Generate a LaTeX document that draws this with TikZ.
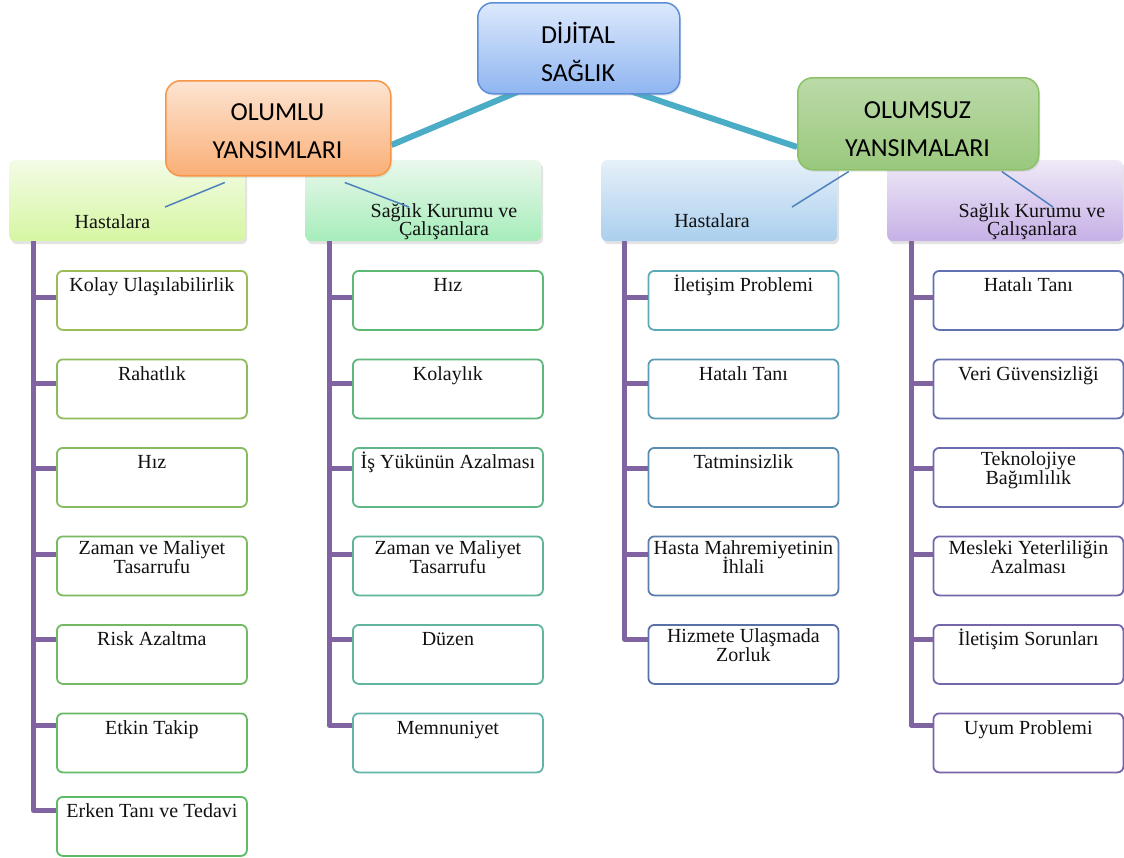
\documentclass[tikz,border=0pt]{standalone}
\usepackage{fontspec}
\setmainfont{Liberation Serif}
\newfontfamily\hdrfont{Carlito}
\usetikzlibrary{shadows}
\pgfdeclarelayer{bg}
\pgfsetlayers{bg,main}
\definecolor{trunkc}{HTML}{8064A2}
\definecolor{sublinkc}{HTML}{4F81BD}
\definecolor{tealc}{HTML}{4BACC6}
\definecolor{dsborder}{HTML}{5B8ED8}
\definecolor{dstop}{HTML}{DCE9FC}
\definecolor{dsbot}{HTML}{8FB5F1}
\definecolor{olborder}{HTML}{F79646}
\definecolor{oltop}{HTML}{FDE4D2}
\definecolor{olbot}{HTML}{FAAF76}
\definecolor{onborder}{HTML}{8CC168}
\definecolor{ontop}{HTML}{BBDAA8}
\definecolor{onbot}{HTML}{9AC87D}
\definecolor{cat1t}{HTML}{F3FCE6}
\definecolor{cat1b}{HTML}{D6F6A2}
\definecolor{cat2t}{HTML}{EAF8EC}
\definecolor{cat2b}{HTML}{A6EDBA}
\definecolor{cat3t}{HTML}{E6F0F9}
\definecolor{cat3b}{HTML}{AACFEE}
\definecolor{cat4t}{HTML}{EFE9F7}
\definecolor{cat4b}{HTML}{C6B0E6}
\definecolor{c1a}{HTML}{9BBB59}
\definecolor{c1b}{HTML}{5CBA68}
\definecolor{c2a}{HTML}{5DB972}
\definecolor{c2b}{HTML}{62B4AA}
\definecolor{c3a}{HTML}{5BAAB8}
\definecolor{c3b}{HTML}{5A70A8}
\definecolor{c4a}{HTML}{6172B0}
\definecolor{c4b}{HTML}{7A62AA}
\definecolor{txt}{HTML}{111111}
\newcommand\topstrut{\rule{0pt}{18pt}}
\newcommand\itemfont{\fontsize{20}{19}\selectfont\lineskiplimit=-100pt\relax\lineskip=0pt\relax}
\newcommand\catfont{\fontsize{20}{18.5}\selectfont\lineskiplimit=-100pt\relax\lineskip=0pt\relax}
\tikzset{
  itembox/.style={draw, line width=1.8pt, rounded corners=6pt, fill=white,
    minimum width=190pt, minimum height=59pt, anchor=north west, inner sep=0pt},
  itemtext/.style={anchor=north, inner sep=0pt, align=center, text=txt,
    font=\itemfont},
  cattext/.style={inner sep=0pt, align=center, text=txt,
    font=\catfont},
  catbox/.style={rounded corners=6pt, minimum width=236pt, minimum height=81pt,
    anchor=north west, inner sep=0pt,
    drop shadow={opacity=0.22, shadow xshift=2pt, shadow yshift=-3pt}},
  hdrbox/.style={line width=1.5pt, rounded corners=15pt, anchor=north west, inner sep=0pt,
    drop shadow={opacity=0.15, shadow xshift=1.5pt, shadow yshift=-2pt}},
  hdrtext/.style={anchor=north, inner sep=0pt, align=center, text=black,
    font=\hdrfont\fontsize{26}{38}\selectfont},
  trunkline/.style={draw=trunkc, line width=5pt, line join=round},
  sublink/.style={draw=sublinkc, line width=1.5pt},
  tealline/.style={draw=tealc, line width=6pt},
}
\newcommand\mkitem[5]{%
  \node[itembox, draw=#4] (#1) at (#2,#3) {};
  \node[itemtext] (#1t) at ([yshift=-3.5pt]#1.north) {\topstrut #5};
}
\newcommand\mkitemtwo[6]{%
  \node[itembox, draw=#4] (#1) at (#2,#3) {};
  \node[itemtext] (#1t) at ([yshift=-0.5pt]#1.north) {\topstrut #5\\#6};
}
\newcommand\mkbar[3]{\draw[trunkline] (#1,#3) -- (#2.west |- 0,#3);}
\begin{document}
\begin{tikzpicture}[x=1pt,y=-1pt]
\useasboundingbox (0,0) rectangle (1124,857);
\begin{pgfonlayer}{bg}
\fill[white] (0,0) rectangle (1124,857);
\end{pgfonlayer}

% category boxes
\node[catbox, top color=cat1t, bottom color=cat1b] (cat1) at (9,160) {};
\node[catbox, top color=cat2t, bottom color=cat2b] (cat2) at (305,160) {};
\node[catbox, top color=cat3t, bottom color=cat3b] (cat3) at (601,160) {};
\node[catbox, top color=cat4t, bottom color=cat4b] (cat4) at (887,160) {};

% header boxes
\node[hdrbox, draw=dsborder, top color=dstop, bottom color=dsbot,
  minimum width=202pt, minimum height=91pt] (ds) at (477,2) {};
\node[hdrbox, draw=olborder, top color=oltop, bottom color=olbot,
  minimum width=225pt, minimum height=95pt] (ol) at (165,80) {};
\node[hdrbox, draw=onborder, top color=ontop, bottom color=onbot,
  minimum width=241pt, minimum height=92pt] (on) at (797,77) {};

\node[hdrtext] (dst) at (578,16.4) {\strut DİJİTAL\\\strut SAĞLIK};
\node[hdrtext] (olt) at (277.5,93.4) {\strut OLUMLU\\\strut YANSIMLARI};
\node[hdrtext] (ont) at (917.5,91.4) {\strut OLUMSUZ\\\strut YANSIMALARI};

% teal connectors (behind boxes)
\begin{pgfonlayer}{bg}
\draw[tealline] ([xshift=-58pt,yshift=4pt]ds.south) -- (ol.east |- 0,145);
\draw[tealline] ([xshift=50pt,yshift=4pt]ds.south) -- (on.west |- 0,147);
\end{pgfonlayer}

% category texts
\node[cattext, anchor=base] (cat1x) at (112.5,228) {Hastalara};
\node[cattext, anchor=north] (cat2x) at (444,199) {\topstrut Sağlık Kurumu ve\\Çalışanlara};
\node[cattext, anchor=base] (cat3x) at (712,227) {Hastalara};
\node[cattext, anchor=north] (cat4x) at (1032,199) {\topstrut Sağlık Kurumu ve\\Çalışanlara};

% thin blue links
\coordinate (e1) at (165,207);
\coordinate (e2) at (409,207);
\coordinate (e3) at (792,207);
\coordinate (e4) at (1053,207);
\draw[sublink] ([xshift=-53.5pt,yshift=-6pt]ol.south) -- (e1);
\draw[sublink] ([xshift=66.5pt,yshift=-6pt]ol.south) -- (e2);
\draw[sublink] ([xshift=-69.5pt,yshift=-1pt]on.south) -- (e3);
\draw[sublink] ([xshift=83.5pt,yshift=-1pt]on.south) -- (e4);

% column 1
\mkitem{a1}{56}{270}{c1a}{Kolay Ulaşılabilirlik}
\mkitem{a2}{56}{358.5}{c1a!83!c1b}{Rahatlık}
\mkitem{a3}{56}{447}{c1a!67!c1b}{Hız}
\mkitemtwo{a4}{56}{535.5}{c1a!50!c1b}{Zaman ve Maliyet}{Tasarrufu}
\mkitem{a5}{56}{624}{c1a!33!c1b}{Risk Azaltma}
\mkitem{a6}{56}{712.5}{c1a!17!c1b}{Etkin Takip}
\mkitem{a7}{56}{796}{c1b}{Erken Tanı ve Tedavi}
\draw[trunkline] ([xshift=24.5pt]cat1.south west) -- (33.5,810.5) -- (a7.west |- 0,810.5);
\mkbar{33.5}{a1}{297.5}
\mkbar{33.5}{a2}{383}
\mkbar{33.5}{a3}{468.5}
\mkbar{33.5}{a4}{554}
\mkbar{33.5}{a5}{639.5}
\mkbar{33.5}{a6}{725}

% column 2
\mkitem{b1}{352}{270}{c2a}{Hız}
\mkitem{b2}{352}{358.5}{c2a!80!c2b}{Kolaylık}
\mkitem{b3}{352}{447}{c2a!60!c2b}{İş Yükünün Azalması}
\mkitemtwo{b4}{352}{535.5}{c2a!40!c2b}{Zaman ve Maliyet}{Tasarrufu}
\mkitem{b5}{352}{624}{c2a!20!c2b}{Düzen}
\mkitem{b6}{352}{712.5}{c2b}{Memnuniyet}
\draw[trunkline] ([xshift=24pt]cat2.south west) -- (329,725) -- (b6.west |- 0,725);
\mkbar{329}{b1}{297.5}
\mkbar{329}{b2}{383}
\mkbar{329}{b3}{468.5}
\mkbar{329}{b4}{554}
\mkbar{329}{b5}{639.5}

% column 3
\mkitem{c1}{647.5}{270}{c3a}{İletişim Problemi}
\mkitem{c2}{647.5}{358.5}{c3a!75!c3b}{Hatalı Tanı}
\mkitem{c3}{647.5}{447}{c3a!50!c3b}{Tatminsizlik}
\mkitemtwo{c4}{647.5}{535.5}{c3a!25!c3b}{Hasta Mahremiyetinin}{İhlali}
\mkitemtwo{c5}{647.5}{624}{c3b}{Hizmete Ulaşmada}{Zorluk}
\draw[trunkline] ([xshift=23.5pt]cat3.south west) -- (624.5,639.5) -- (c5.west |- 0,639.5);
\mkbar{624.5}{c1}{297.5}
\mkbar{624.5}{c2}{383}
\mkbar{624.5}{c3}{468.5}
\mkbar{624.5}{c4}{554}

% column 4
\mkitem{d1}{932.5}{270}{c4a}{Hatalı Tanı}
\mkitem{d2}{932.5}{358.5}{c4a!80!c4b}{Veri Güvensizliği}
\mkitemtwo{d3}{932.5}{447}{c4a!60!c4b}{Teknolojiye}{Bağımlılık}
\mkitemtwo{d4}{932.5}{535.5}{c4a!40!c4b}{Mesleki Yeterliliğin}{Azalması}
\mkitem{d5}{932.5}{624}{c4a!20!c4b}{İletişim Sorunları}
\mkitem{d6}{932.5}{712.5}{c4b}{Uyum Problemi}
\draw[trunkline] ([xshift=24pt]cat4.south west) -- (911,725) -- (d6.west |- 0,725);
\mkbar{911}{d1}{297.5}
\mkbar{911}{d2}{383}
\mkbar{911}{d3}{468.5}
\mkbar{911}{d4}{554}
\mkbar{911}{d5}{639.5}
\end{tikzpicture}
\end{document}
